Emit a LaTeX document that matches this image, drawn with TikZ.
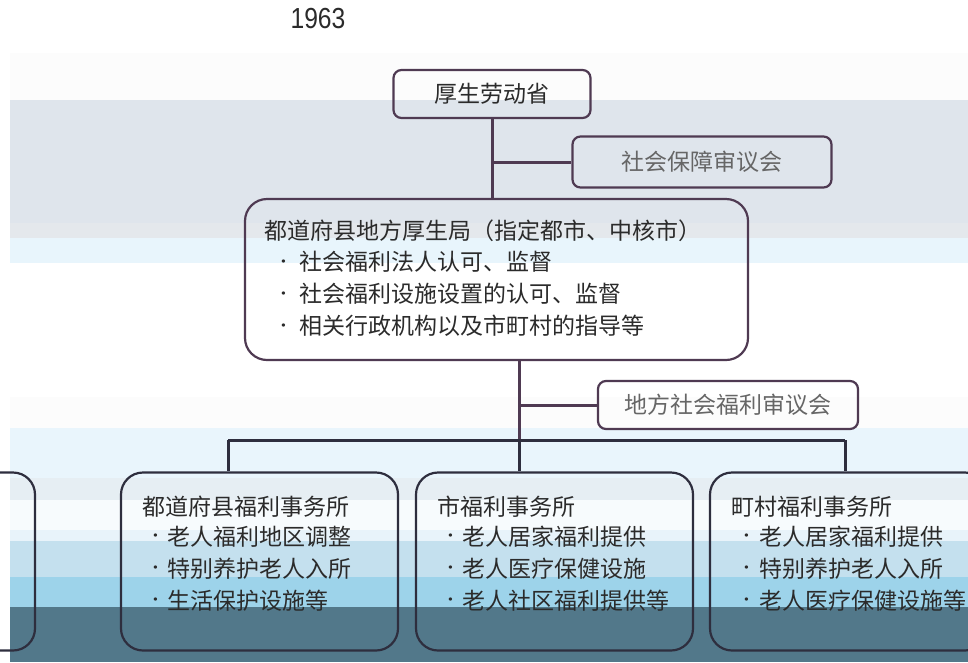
\documentclass[tikz,border=0pt]{standalone}
\usepackage{fontspec}
\newfontfamily\cjk{Noto Sans CJK SC}
\newfontfamily\yearfont[FakeStretch=0.85]{Liberation Sans}
\usetikzlibrary{positioning,calc}
\definecolor{ink}{HTML}{2B2B2B}
\definecolor{soft}{HTML}{666666}
\definecolor{topline}{HTML}{4F3A52}
\definecolor{lowline}{HTML}{2E2E3E}
\newcommand{\blt}[2][16pt]{\makebox[#1][l]{\raisebox{5.5pt}{\normalfont\fontsize{15}{15}\selectfont\textbullet}}#2}
\begin{document}
\begin{tikzpicture}[x=1pt,y=-1pt,
    box/.style={draw=topline, line width=2.2pt, rounded corners=8pt, inner sep=0pt,
        text=ink, font=\cjk\fontsize{23}{23}\selectfont},
    office/.style={draw=lowline, line width=2.2pt, rounded corners=22pt, inner sep=0pt,
        minimum width=277pt, minimum height=178pt},
    ttl/.style={anchor=west, inner sep=0pt, text=ink, font=\cjk\fontsize{23}{23}\selectfont},
    link/.style={draw=topline, line width=3pt},
    bus/.style={draw=lowline, line width=3pt}]
\useasboundingbox (0,0) rectangle (968,662);
\clip (0,0) rectangle (968,662);

% background bands
\fill[white] (0,0) rectangle (968,662);
\fill[fill={rgb,255:red,252;green,252;blue,252}] (10,53) rectangle (968,100);
\fill[fill={rgb,255:red,223;green,229;blue,236}] (10,100) rectangle (968,223);
\fill[fill={rgb,255:red,228;green,232;blue,236}] (10,223) rectangle (968,238);
\fill[fill={rgb,255:red,232;green,245;blue,252}] (10,238) rectangle (968,263);
\fill[fill={rgb,255:red,252;green,252;blue,252}] (10,397) rectangle (968,428);
\fill[fill={rgb,255:red,233;green,245;blue,252}] (10,428) rectangle (968,478);
\fill[fill={rgb,255:red,230;green,238;blue,243}] (10,478) rectangle (968,500);
\fill[fill={rgb,255:red,247;green,251;blue,253}] (10,500) rectangle (968,530);
\fill[fill={rgb,255:red,232;green,243;blue,250}] (10,530) rectangle (968,541);
\fill[fill={rgb,255:red,196;green,224;blue,238}] (10,541) rectangle (968,577);
\fill[fill={rgb,255:red,157;green,211;blue,234}] (10,577) rectangle (968,607);
\fill[fill={rgb,255:red,82;green,120;blue,138}] (10,607) rectangle (968,662);

\node[inner sep=0pt, text=ink, font=\yearfont\fontsize{29}{29}\selectfont]
    (year) at (318,19) {1963};

% ministry and councils
\node[box, minimum width=197pt, minimum height=48pt] (mhlw) at (492,94) {厚生劳动省};
\node[box, minimum width=259pt, minimum height=51pt, text=soft] (council) at (702,162) {社会保障审议会};
\node[box, rounded corners=22pt, minimum width=503pt, minimum height=161pt] (bureau) at (496.5,279.5) {};
\node[ttl] (bureau-t) at ($(bureau.north west)+(20,33)$) {都道府县地方厚生局（指定都市、中核市）};
\node[ttl] (bureau-1) at ($(bureau.north west)+(34,64)$) {\blt[21pt]{社会福利法人认可、监督}};
\node[ttl] (bureau-2) at ($(bureau.north west)+(34,96)$) {\blt[21pt]{社会福利设施设置的认可、监督}};
\node[ttl] (bureau-3) at ($(bureau.north west)+(34,128)$) {\blt[21pt]{相关行政机构以及市町村的指导等}};
\node[box, minimum width=260pt, minimum height=48pt, text=soft] (local) at (728,405) {地方社会福利审议会};

% welfare offices
\node[office] (prev) at (-103.5,561.5) {};
\node[office] (pref) at (259.5,561.5) {};
\node[office] (city) at (554.5,561.5) {};
\node[office] (town) at (848.5,561.5) {};

\node[ttl] (pref-t) at ($(pref.north west)+(22,35)$) {都道府县福利事务所};
\node[ttl] (pref-1) at ($(pref.north west)+(30,65)$) {\blt[17pt]{老人福利地区调整}};
\node[ttl] (pref-2) at ($(pref.north west)+(30,97)$) {\blt[17pt]{特别养护老人入所}};
\node[ttl] (pref-3) at ($(pref.north west)+(30,129)$) {\blt[17pt]{生活保护设施等}};

\node[ttl] (city-t) at ($(city.north west)+(22,35)$) {市福利事务所};
\node[ttl] (city-1) at ($(city.north west)+(30,65)$) {\blt[17pt]{老人居家福利提供}};
\node[ttl] (city-2) at ($(city.north west)+(30,97)$) {\blt[17pt]{老人医疗保健设施}};
\node[ttl] (city-3) at ($(city.north west)+(30,129)$) {\blt[17pt]{老人社区福利提供等}};

\node[ttl] (town-t) at ($(town.north west)+(22,35)$) {町村福利事务所};
\node[ttl] (town-1) at ($(town.north west)+(32,65)$) {\blt[18pt]{老人居家福利提供}};
\node[ttl] (town-2) at ($(town.north west)+(32,97)$) {\blt[18pt]{特别养护老人入所}};
\node[ttl] (town-3) at ($(town.north west)+(32,129)$) {\blt[18pt]{老人医疗保健设施等}};

% connectors
\coordinate (bus-c) at (519,440);
\coordinate (bus-l) at (228,440);
\coordinate (bus-r) at (845,440);
\draw[link] (mhlw.south) -- (mhlw.south |- bureau.north);
\draw[link] (mhlw.south |- council.west) -- (council.west);
\draw[link] (bureau.south -| bus-c) -- (bus-c);
\draw[link] (bus-c |- local.west) -- (local.west);
\draw[bus] (bus-l) -- (bus-r);
\draw[bus] (bus-l) -- (bus-l |- pref.north);
\draw[bus] (bus-c) -- (bus-c |- city.north);
\draw[bus] (bus-r) -- (bus-r |- town.north);
\end{tikzpicture}
\end{document}
